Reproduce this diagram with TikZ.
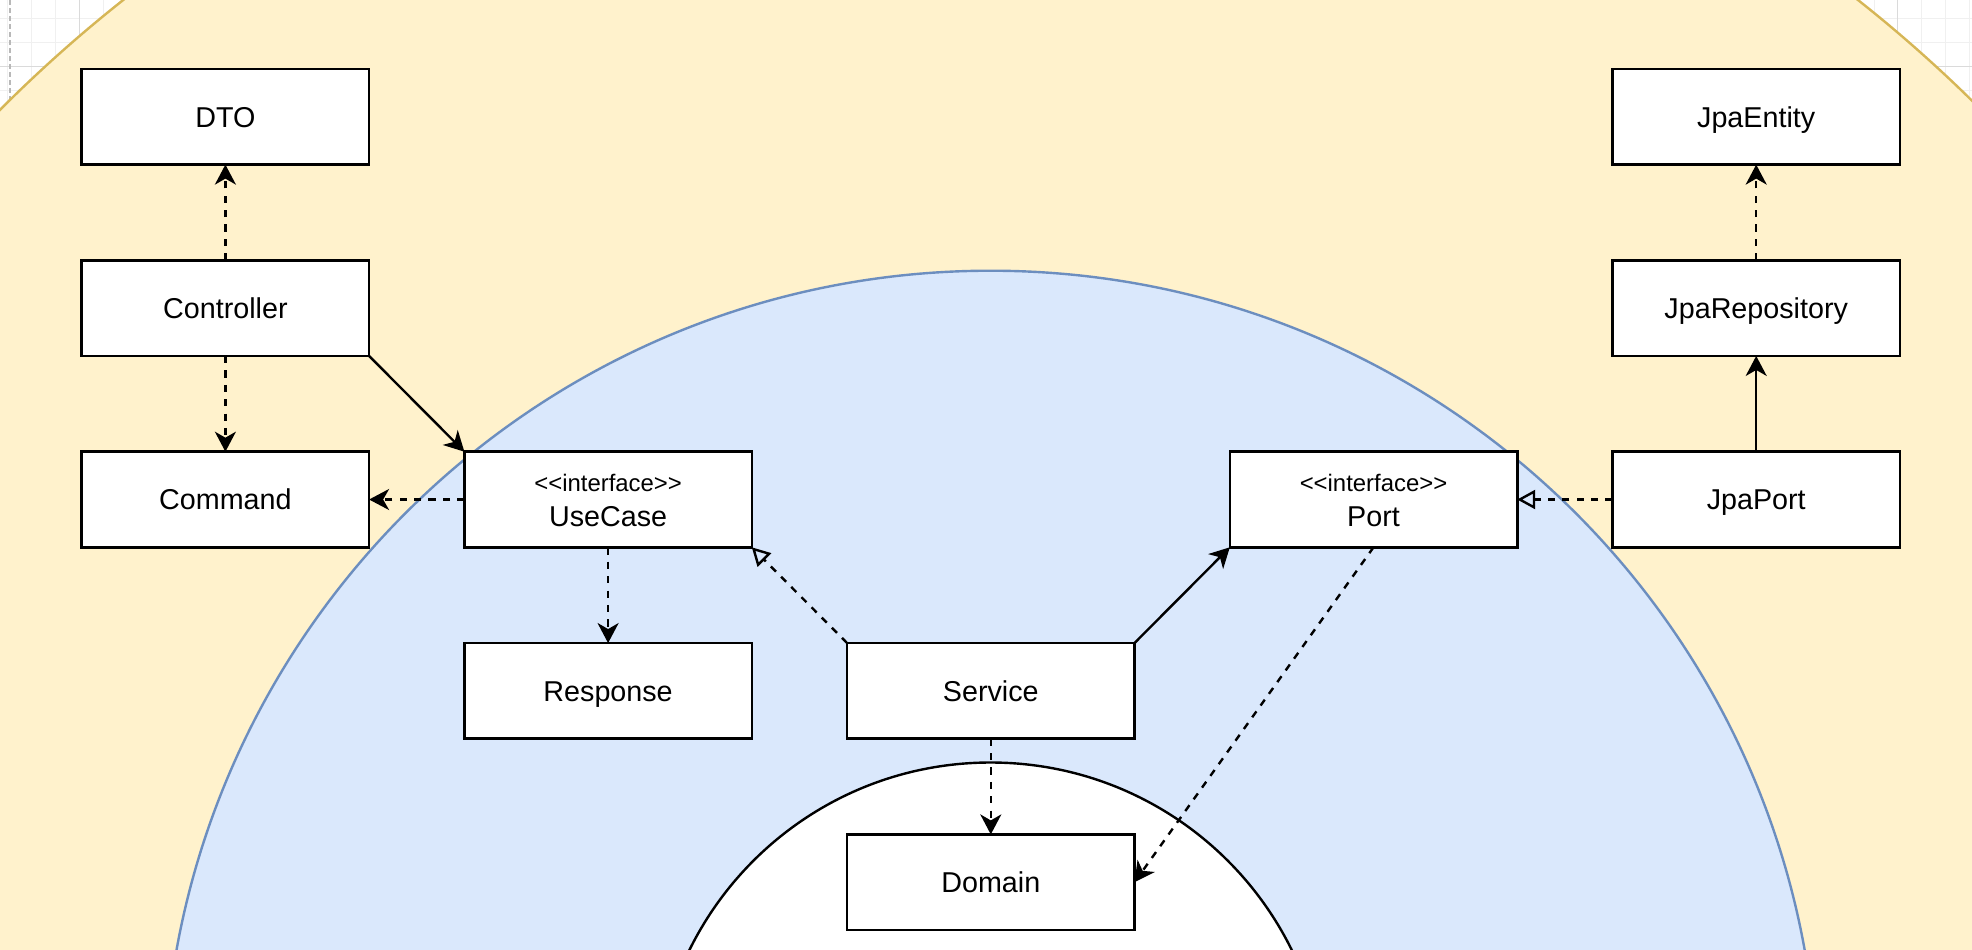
\documentclass[tikz,border=0pt]{standalone}
\usepackage{fontspec}
\setmainfont{Liberation Sans}
\usetikzlibrary{arrows.meta}
\definecolor{yfill}{HTML}{FFF2CC}
\definecolor{ystroke}{HTML}{D6B656}
\definecolor{bfill}{HTML}{DAE8FC}
\definecolor{bstroke}{HTML}{6C8EBF}
\definecolor{gridminor}{HTML}{F0F0F0}
\definecolor{gridmajor}{HTML}{DADADA}
\definecolor{pageline}{HTML}{B8B8B8}
\begin{document}
\begin{tikzpicture}[x=0.5pt,y=-0.5pt,
  box/.style={draw=black, fill=white, line width=1.3pt, minimum width=143.7pt,
    minimum height=47.8pt, inner sep=0pt, outer sep=0pt,
    font=\fontsize{14.35}{17.5}\selectfont, align=center,
    text height=10.2pt, text depth=0pt},
  ibox/.style={box, text height=27.2pt, text depth=0pt},
  dep/.style={line width=1.2pt, dash pattern=on 3.6pt off 3.6pt,
    -{Stealth[length=10pt,width=10.5pt,inset=3pt]}},
  assoc/.style={line width=1.2pt, -{Stealth[length=10pt,width=10.5pt,inset=3pt]}},
  realize/.style={line width=1.2pt, dash pattern=on 3.6pt off 3.6pt,
    -{Triangle[open,length=9pt,width=9.5pt]}},
  minorgrid/.style={gridminor, line width=0.5pt},
  majorgrid/.style={gridmajor, line width=0.5pt}
]
\useasboundingbox (0,0) rectangle (1972,949);
\clip (0,0) rectangle (1972,949);
\fill[white] (0,0) rectangle (1972,949);
% background grid
\foreach \k in {0,...,82}{
  \pgfmathsetmacro\xx{7.5+23.93*\k}
  \draw[minorgrid] (\xx,0) -- (\xx,949);
}
\foreach \k in {0,...,38}{
  \pgfmathsetmacro\yy{18.84+23.93*\k}
  \draw[minorgrid] (0,\yy) -- (1972,\yy);
}
\foreach \k in {0,...,19}{
  \pgfmathsetmacro\xx{79.3+95.72*\k}
  \draw[majorgrid] (\xx,0) -- (\xx,949);
}
\foreach \k in {0,...,9}{
  \pgfmathsetmacro\yy{66.7+95.72*\k}
  \draw[majorgrid] (0,\yy) -- (1972,\yy);
}
\draw[pageline, line width=1pt, dash pattern=on 2.5pt off 1.5pt] (10,0) -- (10,949);
% layers
\coordinate (ctr) at (990.6,1098);
\draw[fill=yfill, draw=ystroke, line width=1.2pt] (ctr) circle[radius=699.6pt];
\draw[fill=bfill, draw=bstroke, line width=1.2pt] (ctr) circle[radius=413.65pt];
\draw[fill=white, draw=black, line width=1.2pt] (ctr) circle[radius=167.75pt];
% boxes
\node[box] (dto)        at (225.4,116.8)  {DTO};
\node[box] (controller) at (225.4,308.15) {Controller};
\node[box] (command)    at (225.4,499.5)  {Command};
\node[ibox] (usecase)   at (608.1,499.5)  {{\fontsize{11.95}{14}\selectfont <\kern0pt<interface>\kern0pt>}\\UseCase};
\node[box] (response)   at (608.1,690.85) {Response};
\node[box] (service)    at (990.8,690.85) {Service};
\node[box] (domain)     at (990.8,882.2)  {Domain};
\node[ibox] (port)      at (1373.5,499.5) {{\fontsize{11.95}{14}\selectfont <\kern0pt<interface>\kern0pt>}\\Port};
\node[box] (jpaentity)  at (1756.2,116.8) {JpaEntity};
\node[box] (jparepo)    at (1756.2,308.15){JpaRepository};
\node[box] (jpaport)    at (1756.2,499.5) {JpaPort};
% connectors
\draw[dep] (controller.north) -- (dto.south);
\draw[dep] (controller.south) -- (command.north);
\draw[assoc] (controller.south east) -- (usecase.north west);
\draw[dep] (usecase.west) -- (command.east);
\draw[dep] (usecase.south) -- (response.north);
\draw[realize] (service.north west) -- (usecase.south east);
\draw[assoc] (service.north east) -- (port.south west);
\draw[dep] (service.south) -- (domain.north);
\draw[dep] (port.south) -- (domain.east);
\draw[realize] (jpaport.west) -- (port.east);
\draw[assoc] (jpaport.north) -- (jparepo.south);
\draw[dep] (jparepo.north) -- (jpaentity.south);
\end{tikzpicture}
\end{document}
